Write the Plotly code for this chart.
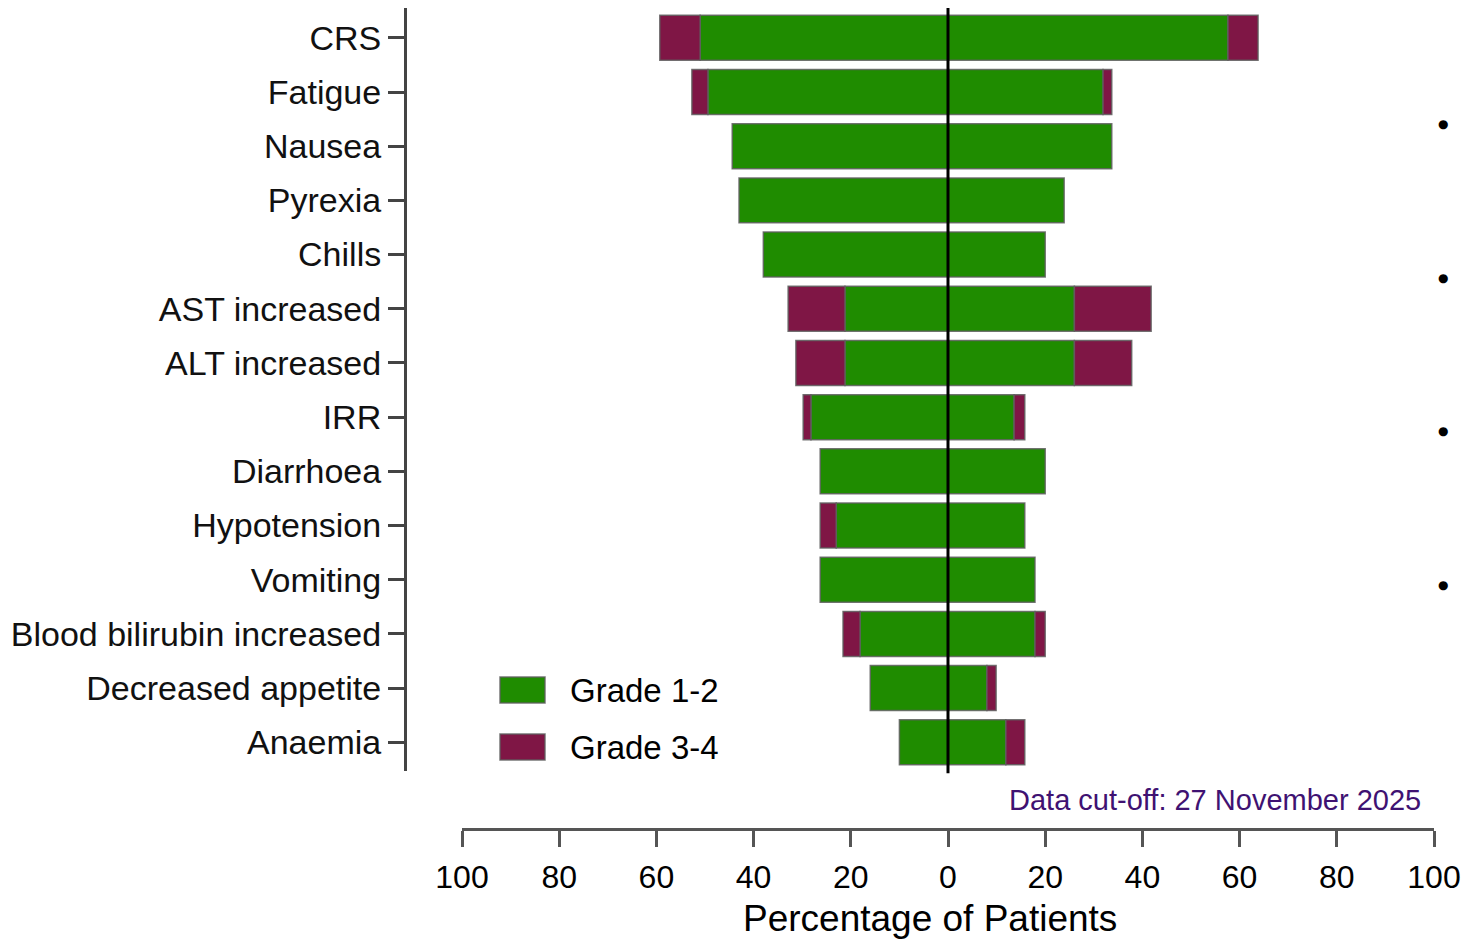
import plotly.graph_objects as go

categories = ["CRS", "Fatigue", "Nausea", "Pyrexia", "Chills", "AST increased",
              "ALT increased", "IRR", "Diarrhoea", "Hypotension", "Vomiting",
              "Blood bilirubin increased", "Decreased appetite", "Anaemia"]

# left half (plotted to the left of 0)
left_grade12 = [51.0, 49.4, 44.4, 43.0, 38.0, 21.2, 21.2, 28.2, 26.3, 23.0, 26.3, 18.1, 16.0, 10.0]
left_grade34 = [8.3, 3.3, 0, 0, 0, 11.7, 10.1, 1.6, 0, 3.3, 0, 3.5, 0, 0]
# right half
right_grade12 = [57.6, 31.9, 33.7, 23.9, 20.0, 26.0, 26.0, 13.6, 20.0, 15.8, 17.9, 17.9, 8.0, 11.9]
right_grade34 = [6.2, 1.8, 0, 0, 0, 15.8, 11.8, 2.2, 0, 0, 0, 2.1, 1.9, 3.9]

tick_vals = [-100, -80, -60, -40, -20, 0, 20, 40, 60, 80, 100]
tick_text = ["100", "80", "60", "40", "20", "0", "20", "40", "60", "80", "100"]

legend_labels = ["Grade 1-2", "Grade 3-4"]
dot_rows = [124, 278, 431, 585]  # decorative bullets at right edge (pixel rows)

GREEN = "#1f8c00"
MAROON = "#7f1645"
OUTLINE = "rgba(95,95,95,0.85)"
FONT = "Liberation Sans, Arial, sans-serif"

# layout geometry (pixels)
W, H = 1471, 940
ML, MR, MT, MB = 405, 37, 8, 111
PW, PH = W - ML - MR, H - MT - MB


def px2paper_x(px):
    return (px - ML) / PW


def px2paper_y(py):
    return (H - MB - py) / PH


def nz(vals, sign):
    return [sign * v if v else None for v in vals]


fig = go.Figure()
bar_kw = dict(orientation="h", width=0.83, showlegend=False, hoverinfo="x+y")
fig.add_trace(go.Bar(y=categories, x=nz(left_grade12, -1),
                     marker=dict(color=GREEN, line=dict(color=OUTLINE, width=1.5)), **bar_kw))
fig.add_trace(go.Bar(y=categories, x=nz(right_grade12, 1),
                     marker=dict(color=GREEN, line=dict(color=OUTLINE, width=1.5)), **bar_kw))
fig.add_trace(go.Bar(y=categories, x=nz(left_grade34, -1),
                     marker=dict(color=MAROON, line=dict(color=OUTLINE, width=1.5)), **bar_kw))
fig.add_trace(go.Bar(y=categories, x=nz(right_grade34, 1),
                     marker=dict(color=MAROON, line=dict(color=OUTLINE, width=1.5)), **bar_kw))

# zero line
fig.add_shape(type="line", xref="x", yref="y domain", x0=0, x1=0, y0=-0.003, y1=1,
              line=dict(color="black", width=3), layer="above")

# manual legend
leg_rows = [690, 747]
leg_colors = [GREEN, MAROON]
for lab, col, py in zip(legend_labels, leg_colors, leg_rows):
    fig.add_shape(type="rect", xref="paper", yref="paper",
                  x0=px2paper_x(500), x1=px2paper_x(545),
                  y0=px2paper_y(py + 13), y1=px2paper_y(py - 13),
                  fillcolor=col, line=dict(color=OUTLINE, width=1.5))
    fig.add_annotation(text=lab, xref="paper", yref="paper",
                       x=px2paper_x(568), y=px2paper_y(py), xanchor="left", yanchor="middle",
                       showarrow=False, font=dict(family=FONT, size=33, color="black"))

# data cut-off note
fig.add_annotation(text="Data cut-off: 27 November 2025", xref="paper", yref="paper",
                   x=px2paper_x(1423), y=px2paper_y(800), xanchor="right", yanchor="middle",
                   showarrow=False, font=dict(family=FONT, size=29, color="#3f1272"))

# axis title (slightly left of axis centre, as in the original)
fig.add_annotation(text="Percentage of Patients", xref="paper", yref="paper",
                   x=px2paper_x(930), y=px2paper_y(918), xanchor="center", yanchor="middle",
                   showarrow=False, font=dict(family=FONT, size=37, color="black"))

for py in dot_rows:
    fig.add_annotation(text="●", xref="paper", yref="paper",
                       x=px2paper_x(1443), y=px2paper_y(py), xanchor="center", yanchor="middle",
                       showarrow=False, font=dict(family="DejaVu Sans", size=12, color="black"))

fig.update_layout(
    width=W, height=H,
    margin=dict(l=ML, r=MR, t=MT, b=MB),
    barmode="relative",
    bargap=0.17,
    plot_bgcolor="white", paper_bgcolor="white",
    font=dict(family=FONT, color="black"),
    showlegend=False,
    xaxis=dict(
        domain=[px2paper_x(462), 1], anchor="free", position=0,
        range=[-100, 100], tickvals=tick_vals, ticktext=tick_text,
        showgrid=False, zeroline=False,
        showline=True, linecolor="#555555", linewidth=3,
        ticks="outside", ticklen=16, tickwidth=3, tickcolor="#555555",
        tickfont=dict(family=FONT, size=32, color="black"),
        ticklabelstandoff=3,
        fixedrange=True,
    ),
    yaxis=dict(
        domain=[(829 - 771) / PH, 1], anchor="free", position=0,
        categoryorder="array", categoryarray=categories,
        range=[13.53, -0.55],
        showgrid=False, zeroline=False,
        showline=True, linecolor="#444444", linewidth=3,
        ticks="outside", ticklen=16, tickwidth=2.5, tickcolor="#444444",
        tickfont=dict(family=FONT, size=34, color="#111111"),
        ticklabelstandoff=0,
        fixedrange=True,
    ),
)

fig.write_html("out.html")
